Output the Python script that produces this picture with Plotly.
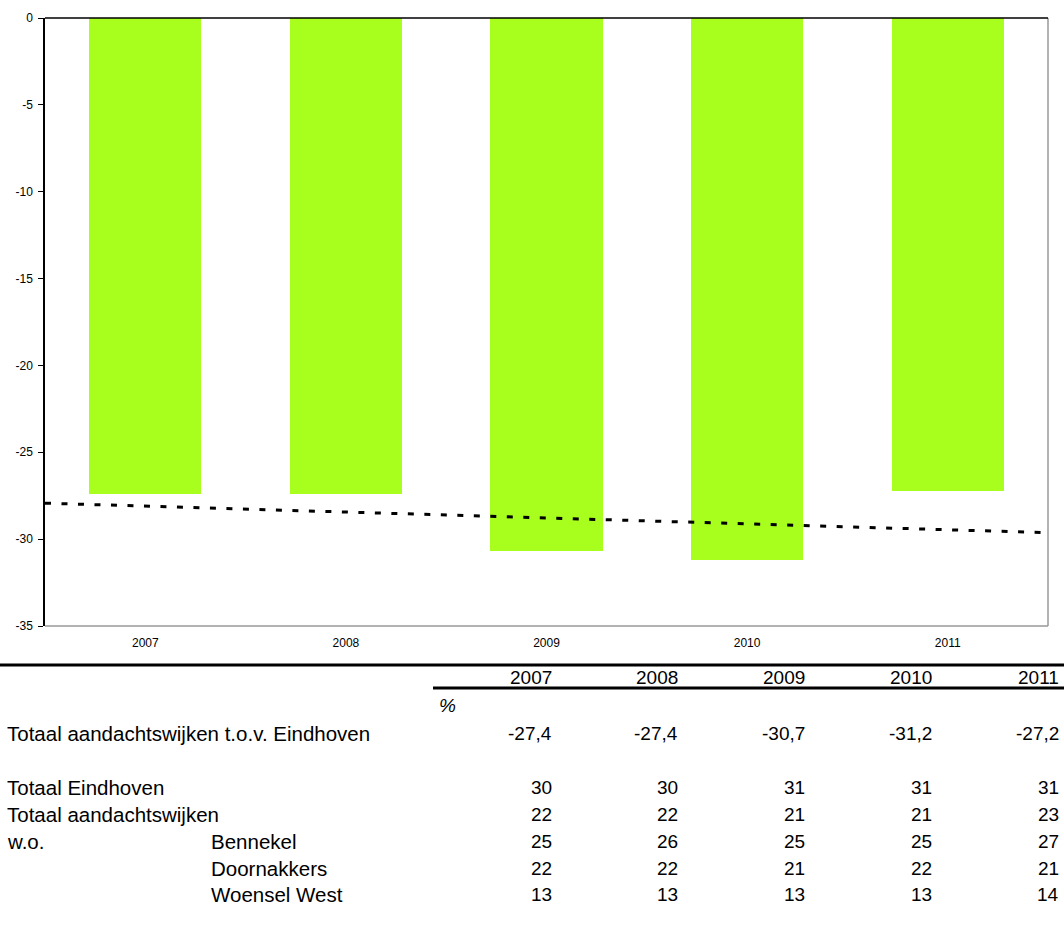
import numpy as np
import plotly.graph_objects as go

# ---- data ----
years = [2007, 2008, 2009, 2010, 2011]
verschil = [-27.4, -27.4, -30.7, -31.2, -27.2]
verschil_labels = ["-27,4", "-27,4", "-30,7", "-31,2", "-27,2"]
y_ticks = [0, -5, -10, -15, -20, -25, -30, -35]
y_tick_labels = ["0", "-5", "-10", "-15", "-20", "-25", "-30", "-35"]

row_labels = ["Totaal Eindhoven", "Totaal aandachtswijken", "Bennekel", "Doornakkers", "Woensel West"]
totaal_eindhoven = [30, 30, 31, 31, 31]
totaal_aandachtswijken = [22, 22, 21, 21, 23]
bennekel = [25, 26, 25, 25, 27]
doornakkers = [22, 22, 21, 22, 21]
woensel_west = [13, 13, 13, 13, 14]

# ---- layout constants (pixels) ----
W, H = 1064, 926
L, R, T, B = 45, 16, 18, 300
PW = W - L - R
PH = H - T - B
FONT = "Liberation Sans, Arial, sans-serif"


def px(x):
    return (x - L) / PW


def py(y):
    return (H - B - y) / PH


# linear trendline (as Excel draws it) fitted to the bar values
coef = np.polyfit(years, verschil, 1)
tx = [years[0] - 0.5, years[-1] + 0.5]
ty = [coef[0] * v + coef[1] for v in tx]

fig = go.Figure()
fig.add_trace(go.Bar(
    x=years, y=verschil, width=0.56,
    marker=dict(color="#a8ff1e", line=dict(width=0)),
    hoverinfo="skip", showlegend=False,
))
fig.add_trace(go.Scatter(
    x=tx, y=ty, mode="lines",
    line=dict(color="black", width=3, dash="6px,10.5px"),
    hoverinfo="skip", showlegend=False,
))

shapes = []
shapes.append(dict(type="line", xref="paper", yref="paper", x0=1, x1=1, y0=0, y1=1,
                   line=dict(color="#999999", width=1.5)))
shapes.append(dict(type="line", xref="paper", yref="paper", x0=0, x1=1, y0=0, y1=0,
                   line=dict(color="#999999", width=1.5)))
shapes.append(dict(type="line", xref="paper", yref="paper", x0=0, x1=1, y0=1, y1=1,
                   line=dict(color="black", width=1.5)))
shapes.append(dict(type="line", xref="paper", yref="paper", x0=px(0), x1=px(W), y0=py(665), y1=py(665),
                   line=dict(color="black", width=3)))
shapes.append(dict(type="line", xref="paper", yref="paper", x0=px(433), x1=px(W), y0=py(688), y1=py(688),
                   line=dict(color="black", width=3)))

annotations = []
NUMF = dict(family=FONT, size=19, color="black")
LBLF = dict(family=FONT, size=20.5, color="black")
col_right = [553, 679, 806, 933, 1060]


def txt(x, y, s, anchor="left", font=NUMF):
    annotations.append(dict(xref="paper", yref="paper", x=px(x), y=py(y), text=s,
                            showarrow=False, xanchor=anchor, yanchor="middle",
                            font=font, align=anchor, borderpad=0))


for i, yv in enumerate(years):
    txt(col_right[i], 677, str(yv), "right")
txt(438, 705, "<i>%</i>")

txt(6, 733, "Totaal aandachtswijken t.o.v. Eindhoven", font=LBLF)
for i, s in enumerate(verschil_labels):
    txt(col_right[i], 733, s, "right")

rows = [totaal_eindhoven, totaal_aandachtswijken, bennekel, doornakkers, woensel_west]
row_y = [787, 814, 841, 868, 894]
row_x = [6, 6, 210, 210, 210]
for lbl, vals, yy, xx in zip(row_labels, rows, row_y, row_x):
    txt(xx, yy, lbl, font=LBLF)
    for i, v in enumerate(vals):
        txt(col_right[i], yy, str(v), "right")
txt(6, 841, "w.o.", font=LBLF)

fig.update_layout(
    width=W, height=H,
    margin=dict(l=L, r=R, t=T, b=B, pad=0),
    paper_bgcolor="white", plot_bgcolor="white",
    font=dict(family=FONT, color="black"),
    shapes=shapes, annotations=annotations,
    bargap=0,
    xaxis=dict(
        range=[years[0] - 0.5, years[-1] + 0.5],
        tickvals=years, ticktext=[str(y) for y in years],
        showgrid=False, zeroline=False, showline=False, ticks="",
        tickfont=dict(family=FONT, size=12, color="black"),
        ticklabelstandoff=8,
        fixedrange=True,
    ),
    yaxis=dict(
        range=[-35, 0], tickvals=y_ticks, ticktext=y_tick_labels,
        showgrid=False, zeroline=False,
        showline=True, linecolor="black", linewidth=1.5,
        ticks="outside", ticklen=5, tickcolor="black", tickwidth=1,
        tickfont=dict(family=FONT, size=12, color="black"),
        ticklabelstandoff=3,
        fixedrange=True,
    ),
)

fig.write_html("out.html", config={"displayModeBar": False},
               post_script="document.body.style.margin='0';document.body.style.padding='0';")
